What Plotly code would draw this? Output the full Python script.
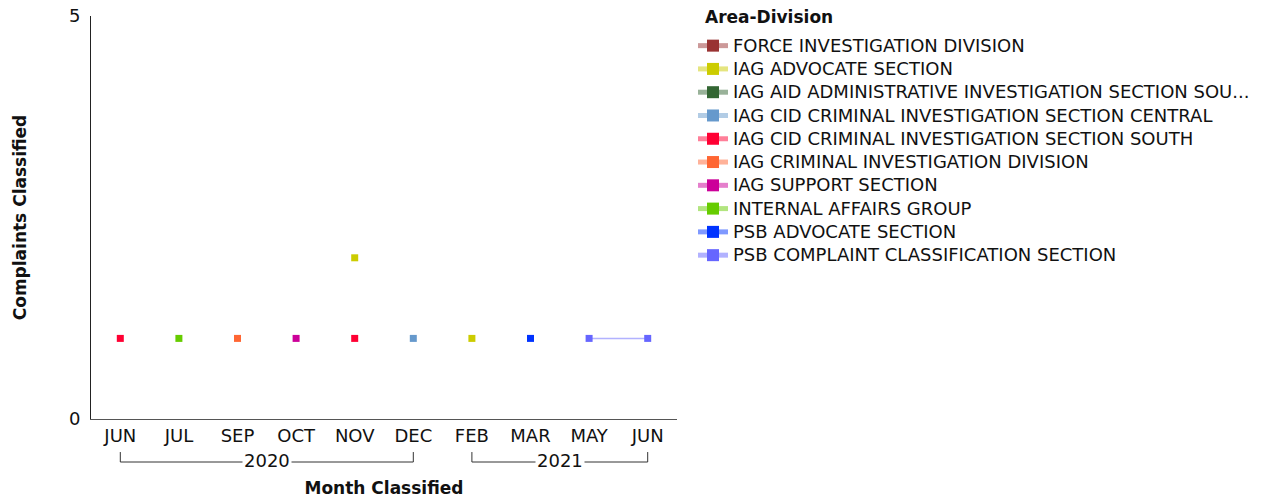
import plotly.graph_objects as go

months = ["JUN", "JUL", "SEP", "OCT", "NOV", "DEC", "FEB", "MAR", "MAY", "JUN"]
years = ["2020", "2020", "2020", "2020", "2020", "2020", "2021", "2021", "2021", "2021"]

legend_title = "Area-Division"
series_names = [
    "FORCE INVESTIGATION DIVISION",
    "IAG ADVOCATE SECTION",
    "IAG AID ADMINISTRATIVE INVESTIGATION SECTION SOU...",
    "IAG CID CRIMINAL INVESTIGATION SECTION CENTRAL",
    "IAG CID CRIMINAL INVESTIGATION SECTION SOUTH",
    "IAG CRIMINAL INVESTIGATION DIVISION",
    "IAG SUPPORT SECTION",
    "INTERNAL AFFAIRS GROUP",
    "PSB ADVOCATE SECTION",
    "PSB COMPLAINT CLASSIFICATION SECTION",
]
N = None
force_inv = [N, N, N, N, N, N, N, N, N, N]
iag_advocate = [N, N, N, N, 2, N, 1, N, N, N]
iag_aid = [N, N, N, N, N, N, N, N, N, N]
iag_cid_central = [N, N, N, N, N, 1, N, N, N, N]
iag_cid_south = [1, N, N, N, 1, N, N, N, N, N]
iag_crim_div = [N, N, 1, N, N, N, N, N, N, N]
iag_support = [N, N, N, 1, N, N, N, N, N, N]
internal_affairs = [N, 1, N, N, N, N, N, N, N, N]
psb_advocate = [N, N, N, N, N, N, N, 1, N, N]
psb_complaint = [N, N, N, N, N, N, N, N, 1, 1]

series_values = [force_inv, iag_advocate, iag_aid, iag_cid_central, iag_cid_south,
                 iag_crim_div, iag_support, internal_affairs, psb_advocate, psb_complaint]
colors = ["#993333", "#cccc00", "#336633", "#6699cc", "#ff0033",
          "#ff6633", "#cc0099", "#66cc00", "#0033ff", "#6666ff"]

FONT = "DejaVu Sans, sans-serif"
TXT = "#111111"

def rgba(h, a):
    h = h.lstrip("#")
    return f"rgba({int(h[0:2],16)},{int(h[2:4],16)},{int(h[4:6],16)},{a})"

xidx = list(range(len(months)))
fig = go.Figure()
for name, vals, col in zip(series_names, series_values, colors):
    fig.add_trace(go.Scatter(
        x=xidx, y=vals, name=f'<span style="font-size:18px">{name}</span>',
        mode="lines+markers",
        line=dict(color=rgba(col, 0.5), width=1.5),
        marker=dict(symbol="square", size=7, color=col),
        connectgaps=False,
    ))

# year group labels and brackets
groups = {}
for i, yv in enumerate(years):
    groups.setdefault(yv, []).append(i)
for yv, idxs in groups.items():
    a, b = idxs[0], idxs[-1]
    fig.add_shape(type="path", xref="x", yref="paper",
                  path=f"M {a},-0.082 L {a},-0.1067 L {b},-0.1067 L {b},-0.082",
                  line=dict(color="#333333", width=1))
    fig.add_annotation(x=(a + b) / 2, y=-0.1035, xref="x", yref="paper",
                       text=yv, showarrow=False, bgcolor="white",
                       font=dict(size=18, color=TXT, family=FONT),
                       borderpad=1, xanchor="center", yanchor="middle")

# legend heading
fig.add_annotation(x=(703 - 91) / 586, y=1 + (16 - 17) / 403, xref="paper", yref="paper",
                   text=f"<b>{legend_title}</b>", showarrow=False,
                   font=dict(size=17, family=FONT, color=TXT),
                   xanchor="left", yanchor="middle")

fig.update_layout(
    width=1265, height=498,
    margin=dict(l=91, r=588, t=16, b=79),
    plot_bgcolor="white", paper_bgcolor="white",
    font=dict(family=FONT, size=17, color=TXT),
    showlegend=True,
    legend=dict(
        xref="container", yref="container",
        x=693 / 1265, y=1 - 29 / 498, xanchor="left", yanchor="top",
        font=dict(size=15.6, family=FONT, color=TXT), tracegroupgap=0,
        itemwidth=30, itemsizing="constant", maxheight=480,
    ),
    xaxis=dict(
        tickmode="array", tickvals=xidx, ticktext=months,
        range=[-0.5, len(months) - 0.5],
        showline=True, linecolor="#555555", linewidth=1,
        showgrid=False, zeroline=False, ticks="",
        tickfont=dict(size=18, family=FONT, color=TXT),
        automargin=False,
        title=dict(text="<b>Month Classified</b>", font=dict(size=17, family=FONT, color=TXT), standoff=45),
    ),
    yaxis=dict(
        range=[0, 5], tickvals=[0, 5],
        showline=True, linecolor="#222222", linewidth=1,
        showgrid=True, gridcolor="#d9d9d9", zeroline=False,
        tickfont=dict(size=18, family=FONT, color=TXT), ticks="",
        ticklabelstandoff=6,
        automargin=False,
        title=dict(text="<b>Complaints Classified</b>", font=dict(size=17, family=FONT, color=TXT), standoff=37),
    ),
)

fig.write_html("out.html", config={"displayModeBar": False},
               post_script="document.body.style.margin='0';")
